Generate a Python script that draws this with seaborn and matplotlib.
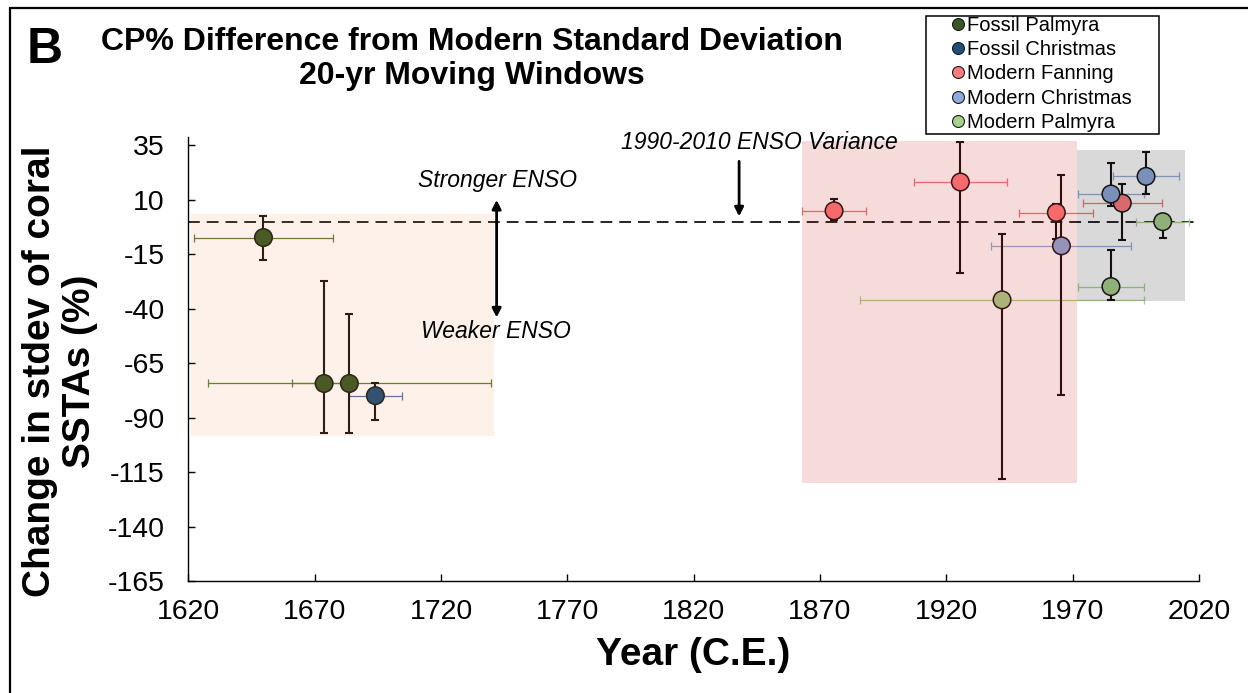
import matplotlib
matplotlib.use("Agg")
import matplotlib.pyplot as plt
from matplotlib.patches import Rectangle
from matplotlib.lines import Line2D
import pandas as pd
import seaborn as sns

# ---- data: CP% difference from modern standard deviation (20-yr windows) ----
series_names = ["Fossil Palmyra", "Fossil Christmas", "Modern Fanning",
                "Modern Christmas", "Modern Palmyra"]

fossil_palmyra_year = [1649.7, 1673.7, 1683.7]
fossil_palmyra_pct = [-7.3, -74.3, -74.3]
fossil_palmyra_up = [10.1, 47.1, 32.1]
fossil_palmyra_down = [10.3, 22.8, 22.8]
fossil_palmyra_xerr = [27.5, 12.8, 56.0]

fossil_christmas_year = [1694.0]
fossil_christmas_pct = [-79.9]
fossil_christmas_up = [5.6]
fossil_christmas_down = [11.3]
fossil_christmas_xerr = [10.5]

modern_fanning_year = [1875.6, 1925.6, 1963.6, 1989.7]
modern_fanning_pct = [5.0, 18.2, 4.2, 8.5]
modern_fanning_up = [5.4, 18.4, 4.0, 8.8]
modern_fanning_down = [4.4, 41.7, 12.2, 16.7]
modern_fanning_xerr = [12.7, 18.5, 14.6, 15.6]

modern_christmas_year = [1965.6, 1985.2, 1999.1]
modern_christmas_pct = [-11.1, 12.7, 20.8]
modern_christmas_up = [32.6, 14.2, 11.0]
modern_christmas_down = [68.6, 5.3, 8.0]
modern_christmas_xerr = [27.7, 13.2, 13.0]

modern_palmyra_year = [1942.1, 1985.2, 2005.7]
modern_palmyra_pct = [-35.9, -29.8, 0.0]
modern_palmyra_up = [30.3, 16.6, 3.5]
modern_palmyra_down = [82.4, 6.1, 7.3]
modern_palmyra_xerr = [56.1, 13.2, 10.5]

# shaded record windows: (x0, x1, y0, y1)
fossil_window = (1621.0, 1741.0, -98.4, 3.3)
modern_window = (1863.0, 1971.7, -120.1, 37.2)
recent_window = (1971.7, 2014.5, -36.2, 33.0)

x_ticks = list(range(1620, 2021, 50))
y_ticks = list(range(-165, 36, 25))

# ---- styling ----
marker_colors = {
    "Fossil Palmyra": "#385723",
    "Fossil Christmas": "#1f4e79",
    "Modern Fanning": "#ff7c80",
    "Modern Christmas": "#8faadc",
    "Modern Palmyra": "#a9d18e",
}
xerr_colors = {
    "Fossil Palmyra": "#5f7a35",
    "Fossil Christmas": "#4f77a0",
    "Modern Fanning": "#f4777b",
    "Modern Christmas": "#92acd8",
    "Modern Palmyra": "#a9d18e",
}

groups = {
    "Fossil Palmyra": (fossil_palmyra_year, fossil_palmyra_pct, fossil_palmyra_up,
                       fossil_palmyra_down, fossil_palmyra_xerr),
    "Fossil Christmas": (fossil_christmas_year, fossil_christmas_pct, fossil_christmas_up,
                         fossil_christmas_down, fossil_christmas_xerr),
    "Modern Fanning": (modern_fanning_year, modern_fanning_pct, modern_fanning_up,
                       modern_fanning_down, modern_fanning_xerr),
    "Modern Christmas": (modern_christmas_year, modern_christmas_pct, modern_christmas_up,
                         modern_christmas_down, modern_christmas_xerr),
    "Modern Palmyra": (modern_palmyra_year, modern_palmyra_pct, modern_palmyra_up,
                       modern_palmyra_down, modern_palmyra_xerr),
}

rows = []
for name, (yr, pct, up, down, xe) in groups.items():
    for i in range(len(yr)):
        rows.append(dict(series=name, year=yr[i], pct=pct[i], up=up[i],
                         down=down[i], xerr=xe[i]))
df = pd.DataFrame(rows)

sns.set_theme(style="white")
plt.rcParams["font.family"] = ["Liberation Sans", "DejaVu Sans"]
plt.rcParams["lines.scale_dashes"] = False
plt.rcParams["axes.unicode_minus"] = False
for key in ["text.color", "axes.labelcolor", "xtick.color", "ytick.color",
            "axes.edgecolor"]:
    plt.rcParams[key] = "black"

fig = plt.figure(figsize=(12.48, 6.93), dpi=100)
ax = fig.add_axes([0.151, 0.1616, 0.8096, 0.6411])

# reference line: 1990-2010 ENSO variance
ax.axhline(0, color="black", lw=1.2, dashes=(8.5, 5), zorder=1.5)

for name in series_names:
    sub = df[df["series"] == name]
    ax.errorbar(sub["year"], sub["pct"], xerr=sub["xerr"], fmt="none",
                ecolor=xerr_colors[name], elinewidth=0.9, capsize=2.6,
                capthick=0.9, zorder=2)
    ax.errorbar(sub["year"], sub["pct"], yerr=[sub["down"], sub["up"]], fmt="none",
                ecolor="#1c1212", elinewidth=1.5, capsize=2.8, capthick=1.5,
                zorder=2.2)

sns.scatterplot(data=df, x="year", y="pct", hue="series", hue_order=series_names,
                palette=marker_colors, s=160, edgecolor="#1a1a1a", linewidth=1.1,
                legend=False, zorder=3, ax=ax)

# translucent windows laid over the records
for (x0, x1, y0, y1), col, alpha in [(fossil_window, "#ed7d31", 0.10),
                                     (modern_window, "#c00000", 0.14),
                                     (recent_window, "#000000", 0.15)]:
    ax.add_patch(Rectangle((x0, y0), x1 - x0, y1 - y0, facecolor=col,
                           edgecolor="none", alpha=alpha, zorder=4))

# annotations
ax.annotate("", xy=(1742, -44), xytext=(1742, 10),
            arrowprops=dict(arrowstyle="<|-|>", color="black", lw=2,
                            mutation_scale=13, shrinkA=0, shrinkB=0), zorder=6)
ax.text(1742.5, 18.8, "Stronger ENSO", style="italic", fontsize=16.5,
        ha="center", va="center", zorder=6)
ax.text(1741.7, -50.4, "Weaker ENSO", style="italic", fontsize=16.5,
        ha="center", va="center", zorder=6)
ax.annotate("", xy=(1838, 2.4), xytext=(1838, 27.7),
            arrowprops=dict(arrowstyle="-|>", color="black", lw=2,
                            mutation_scale=13, shrinkA=0, shrinkB=0), zorder=6)
ax.text(1846, 36.4, "1990-2010 ENSO Variance", style="italic", fontsize=16.5,
        ha="center", va="center", zorder=6)

# axes
ax.set_xlim(1620, 2020)
ax.set_ylim(-165, 39)
ax.set_xticks(x_ticks)
ax.set_yticks(y_ticks)
ax.tick_params(axis="both", direction="in", length=5, width=1, labelsize=20.5,
               colors="black", left=True, bottom=True)
ax.tick_params(axis="y", pad=17)
ax.tick_params(axis="x", pad=13)
for side in ["top", "right"]:
    ax.spines[side].set_visible(False)
for side in ["left", "bottom"]:
    ax.spines[side].set_color("black")
    ax.spines[side].set_linewidth(1.0)
ax.set_xlabel("")
ax.set_ylabel("")
ax.set_facecolor("white")
ax.grid(False)

W, H = 1248, 693
fig.text(693 / W, 1 - 655 / H, "Year (C.E.)", fontsize=28, weight="bold",
         ha="center", va="center")
fig.text(60 / W, 1 - 371 / H, "Change in stdev of coral\nSSTAs (%)", fontsize=28,
         weight="bold", rotation=90, ha="center", va="center",
         multialignment="center", linespacing=1.15)
fig.text(472 / W, 1 - 42 / H, "CP% Difference from Modern Standard Deviation",
         fontsize=23, weight="bold", ha="center", va="center")
fig.text(472 / W, 1 - 76 / H, "20-yr Moving Windows",
         fontsize=23, weight="bold", ha="center", va="center")
fig.text(45 / W, 1 - 50 / H, "B", fontsize=36, weight="bold",
         ha="center", va="center")

# legend with a fixed-size frame
handles = [Line2D([], [], linestyle="none", marker="o", markersize=8.6,
                  markerfacecolor=marker_colors[n], markeredgecolor="#1a1a1a",
                  markeredgewidth=0.8) for n in series_names]
fig.legend(handles, series_names, loc="upper left",
           bbox_to_anchor=(950 / W, 1 - 16 / H), frameon=False, fontsize=14.5,
           handlelength=0.8, handletextpad=0.05, borderpad=0.0,
           labelspacing=0.26, borderaxespad=0)
fig.add_artist(Rectangle((926 / W, 1 - 134 / H), (1159 - 926) / W, (134 - 15.7) / H,
                         transform=fig.transFigure, facecolor="none",
                         edgecolor="black", lw=1.1))

# panel frame
fig.add_artist(Line2D([10 / W, 10 / W], [0, 1 - 8 / H], transform=fig.transFigure,
                      color="black", lw=1.6))
fig.add_artist(Line2D([10 / W, 1], [1 - 8 / H, 1 - 8 / H], transform=fig.transFigure,
                      color="black", lw=1.6))

fig.savefig("out.png", dpi=100, facecolor="white")
